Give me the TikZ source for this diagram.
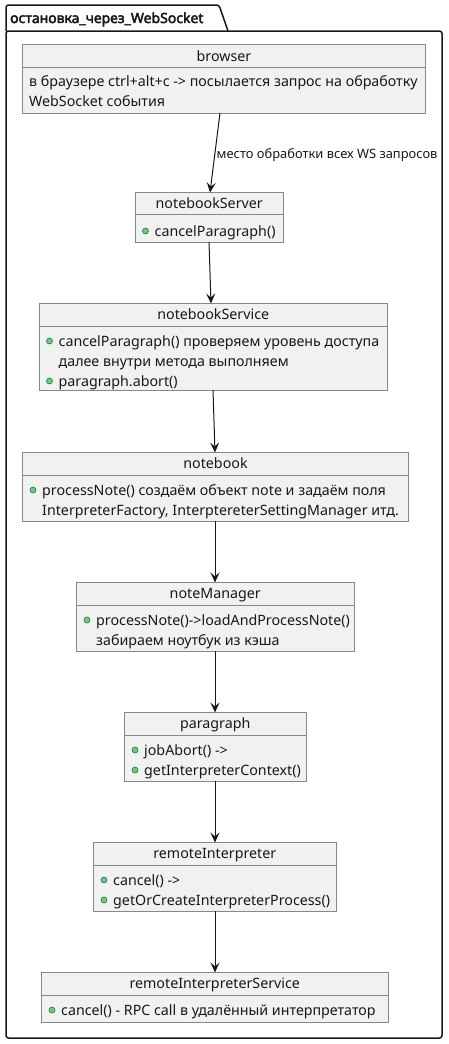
\documentclass[tikz,border=0pt]{standalone}
\usepackage{fontspec}
\setmainfont{Noto Sans}
\newfontfamily\titlefont{Noto Sans}[AutoFakeBold=3]
\usetikzlibrary{arrows.meta}
\definecolor{boxfill}{HTML}{F1F1F1}
\definecolor{boxdraw}{HTML}{888888}
\definecolor{dotfill}{HTML}{84BE84}
\definecolor{dotdraw}{HTML}{038048}
\definecolor{ink}{HTML}{181818}
\tikzset{
  cls/.style={draw=boxdraw, fill=boxfill, line width=1pt, inner sep=0pt, outer sep=0pt, rectangle},
  sepline/.style={draw=boxdraw, line width=1pt},
  ttl/.style={font=\fontsize{14.25}{16}\selectfont, text=ink, inner sep=0pt, anchor=base},
  mem/.style={font=\fontsize{14.25}{16}\selectfont, text=ink, anchor=base west, inner sep=0pt},
  bdot/.style={draw=dotdraw, fill=dotfill, line width=0.6pt},
  conn/.style={draw=ink, line width=1pt, -{Stealth[length=10pt,width=9pt,inset=4pt]}},
  lbl/.style={font=\fontsize{12.9}{14}\selectfont, text=ink, inner sep=0pt, anchor=base west},
  pkg/.style={draw=ink, line width=1.5pt, rounded corners=2.5pt}
}
% name, x1, y1, x2, y2, ysep, title
\newcommand\umlbox[7]{%
  \node[cls, anchor=north west, minimum width={#4-#2}, minimum height={#5-#3}] (#1) at (#2,#3) {};
  \draw[sepline] (#2,#6) -- (#4,#6);
  \node[ttl] (#1-title) at ({(#2+#4)/2},{(#3+#6)/2+5}) {#7};
}
% name, dot x, y, text
\newcommand\umlmem[4]{%
  \draw[bdot] (#2,#3) circle (3);
  \node[mem] (#1) at ({#2+9},{#3+5}) {#4};
}
% name, x, y, text  (plain member line, no dot)
\newcommand\umltxt[4]{%
  \node[mem] (#1) at (#2,{#3+5}) {#4};
}
\begin{document}
\begin{tikzpicture}[x=1pt,y=-1pt]
\useasboundingbox (0,0) rectangle (448,1044);
% package
\draw[pkg] (6,31) -- (6,5) -- (219,5) -- (228,31);
\draw[pkg] (6,31) rectangle (442,1038);
\node[font=\fontsize{14}{16}\titlefont\bfseries, text=ink, anchor=base west, inner sep=0pt] (pkgname) at (10,23) {остановка\_через\_WebSocket};

% browser
\umlbox{browser}{22.5}{44.5}{425.5}{113}{67.5}{browser}
\umltxt{b1}{29}{81}{в браузере ctrl+alt+c -> посылается запрос на обработку}
\umltxt{b2}{29}{101}{WebSocket события}

% notebookServer
\umlbox{nbserver}{135.5}{192.5}{283}{242}{214.5}{notebookServer}
\umlmem{ns1}{145.5}{231}{cancelParagraph()}

% notebookService
\umlbox{nbservice}{39.5}{303.5}{387}{390}{326}{notebookService}
\umlmem{nv1}{49.5}{341}{cancelParagraph() проверяем уровень доступа}
\umltxt{nv2}{58.5}{361}{далее внутри метода выполняем}
\umlmem{nv3}{49.5}{381}{paragraph.abort()}

% notebook
\umlbox{notebook}{22.5}{452.5}{408.5}{521}{475}{notebook}
\umlmem{n1}{33}{490}{processNote() создаём объект note и задаём поля}
\umltxt{n2}{42}{510}{InterpreterFactory, InterptereterSettingManager итд.}

% noteManager
\umlbox{notemanager}{76.5}{582.5}{354}{651}{605}{noteManager}
\umlmem{m1}{87}{620}{processNote()->loadAndProcessNote()}
\umltxt{m2}{96}{640}{забираем ноутбук из кэша}

% paragraph
\umlbox{paragraph}{124.5}{712.5}{306}{781}{735}{paragraph}
\umlmem{p1}{135}{750}{jobAbort() ->}
\umlmem{p2}{135}{770}{getInterpreterContext()}

% remoteInterpreter
\umlbox{remoteint}{93.5}{842.5}{336}{911}{865}{remoteInterpreter}
\umlmem{r1}{104}{880}{cancel() ->}
\umlmem{r2}{104}{900}{getOrCreateInterpreterProcess()}

% remoteInterpreterService
\umlbox{remoteintsvc}{41.5}{972.5}{388}{1022}{995}{remoteInterpreterService}
\umlmem{s1}{52}{1010}{cancel() - RPC call в удалённый интерпретатор}

% connectors
\draw[conn] (browser.south -| 220,0) -- (nbserver.north -| 210,0);
\node[lbl] (elbl) at (216.5,158.5) {место обработки всех WS запросов};
\draw[conn] (nbserver.south -| 209,0) -- (nbservice.north -| 211,0);
\draw[conn] (nbservice.south -| 213,0) -- (notebook.north -| 215,0);
\draw[conn] (notebook.south -| 215,0) -- (notemanager.north -| 215,0);
\draw[conn] (notemanager.south -| 215,0) -- (paragraph.north -| 215,0);
\draw[conn] (paragraph.south -| 215,0) -- (remoteint.north -| 215,0);
\draw[conn] (remoteint.south -| 215,0) -- (remoteintsvc.north -| 215,0);
\end{tikzpicture}
\end{document}
